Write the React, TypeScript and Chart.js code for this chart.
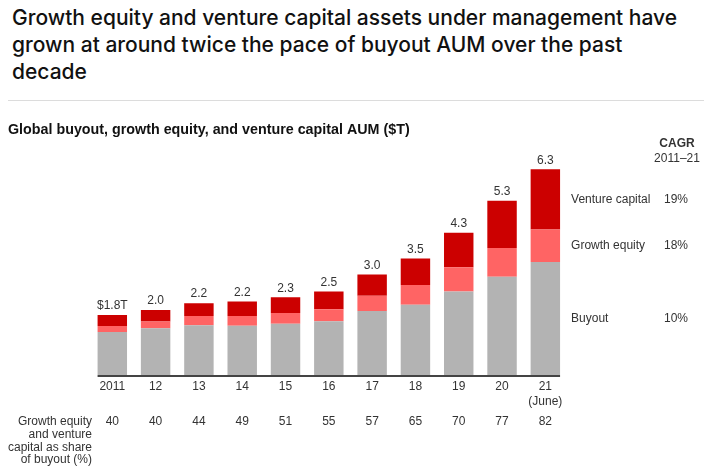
import React, { useEffect, useRef } from "react";
import { Chart, registerables } from "chart.js";

Chart.register(...registerables);

const years = ["2011", "12", "13", "14", "15", "16", "17", "18", "19", "20", "21"];
const buyout = [1.32, 1.43, 1.52, 1.51, 1.57, 1.65, 1.96, 2.15, 2.56, 3.01, 3.46];
const growthEquity = [0.18, 0.21, 0.29, 0.3, 0.33, 0.36, 0.47, 0.61, 0.74, 0.88, 1.0];
const ventureCapital = [0.34, 0.35, 0.39, 0.44, 0.48, 0.55, 0.65, 0.81, 1.06, 1.45, 1.84];
const totalLabels = ["$1.8T", "2.0", "2.2", "2.2", "2.3", "2.5", "3.0", "3.5", "4.3", "5.3", "6.3"];
const shareLabels = ["40", "40", "44", "49", "51", "55", "57", "65", "70", "77", "82"];
const seriesNames = ["Buyout", "Growth equity", "Venture capital"];
const cagrLabels = ["10%", "18%", "19%"];
const shareRowLabel = ["Growth equity", "and venture", "capital as share", "of buyout (%)"];
const titleLines = [
  "Growth equity and venture capital assets under management have",
  "grown at around twice the pace of buyout AUM over the past",
  "decade",
];
const subtitle = "Global buyout, growth equity, and venture capital AUM ($T)";

const FONT = "'Liberation Sans', Arial, sans-serif";
const TEXT = "#333333";

const annotate = {
  id: "annotate",
  afterDatasetsDraw(chart: any) {
    const ctx = chart.ctx;
    const y = chart.scales.y;
    const base = y.getPixelForValue(0);
    const m0 = chart.getDatasetMeta(0).data;
    const m1 = chart.getDatasetMeta(1).data;
    const m2 = chart.getDatasetMeta(2).data;
    ctx.save();
    // axis line
    const first = m0[0];
    const last = m0[m0.length - 1];
    ctx.strokeStyle = "#444";
    ctx.lineWidth = 2;
    ctx.beginPath();
    ctx.moveTo(first.x - first.width / 2, base + 1);
    ctx.lineTo(last.x + last.width / 2, base + 1);
    ctx.stroke();

    ctx.fillStyle = TEXT;
    ctx.font = `12px ${FONT}`;
    ctx.textAlign = "center";
    ctx.textBaseline = "middle";
    m2.forEach((el: any, i: number) => {
      ctx.fillText(totalLabels[i], el.x, el.y - 9);
      ctx.fillText(years[i], el.x, base + 12);
      ctx.fillText(shareLabels[i], el.x, base + 47);
    });
    ctx.fillText("(June)", last.x, base + 27);

    ctx.textAlign = "right";
    shareRowLabel.forEach((t, i) => ctx.fillText(t, 92, base + 47 + i * 12.6));

    // right side labels
    const li = m0.length - 1;
    const segs = [
      (base + m0[li].y) / 2,
      (m0[li].y + m1[li].y) / 2,
      (m1[li].y + m2[li].y) / 2,
    ];
    const lx = last.x + last.width / 2 + 11;
    segs.forEach((sy, i) => {
      ctx.textAlign = "left";
      ctx.fillText(seriesNames[i], lx, sy);
      ctx.textAlign = "center";
      ctx.fillText(cagrLabels[i], 676, sy);
    });
    ctx.textAlign = "center";
    ctx.font = `bold 12px ${FONT}`;
    ctx.fillText("CAGR", 677, 144);
    ctx.font = `12px ${FONT}`;
    ctx.fillText("2011\u201321", 677, 159);

    // subtitle
    ctx.fillStyle = "#111";
    ctx.textAlign = "left";
    ctx.font = `bold 14.3px ${FONT}`;
    ctx.fillText(subtitle, 8, 130);
    ctx.restore();
  },
};

export default function App() {
  const ref = useRef<HTMLCanvasElement>(null);
  useEffect(() => {
    if (!ref.current) return;
    const chart = new Chart(ref.current, {
      type: "bar",
      data: {
        labels: years,
        datasets: [
          { label: seriesNames[0], data: buyout, backgroundColor: "#b3b3b3" },
          { label: seriesNames[1], data: growthEquity, backgroundColor: "#ff6464" },
          { label: seriesNames[2], data: ventureCapital, backgroundColor: "#cc0000" },
        ],
      },
      options: {
        responsive: false,
        animation: false,
        layout: { padding: { left: 90.65, right: 145, top: 146.45, bottom: 96 } },
        datasets: { bar: { categoryPercentage: 1, barPercentage: 0.68 } },
        plugins: { legend: { display: false }, tooltip: { enabled: false } },
        scales: {
          x: { stacked: true, display: false },
          y: { stacked: true, display: false, min: 0, max: 7 },
        },
      },
      plugins: [annotate],
    });
    return () => chart.destroy();
  }, []);

  return (
    <div style={{ position: "absolute", left: 0, top: 0, width: 712, height: 471, background: "#fff", overflow: "hidden" }}>
      <div
        style={{
          position: "absolute",
          left: 12,
          top: 4,
          fontFamily: "Inter, Roboto, sans-serif",
          fontWeight: 500,
          fontSize: 21,
          lineHeight: "27px",
          color: "#111",
          whiteSpace: "nowrap",
        }}
      >
        {titleLines.map((t, i) => (
          <div key={i}>{t}</div>
        ))}
      </div>
      <div style={{ position: "absolute", left: 8, top: 100, width: 696, height: 1, background: "#dcdcdc" }} />
      <canvas ref={ref} width={712} height={471} style={{ position: "absolute", left: 0, top: 0 }} />
    </div>
  );
}
